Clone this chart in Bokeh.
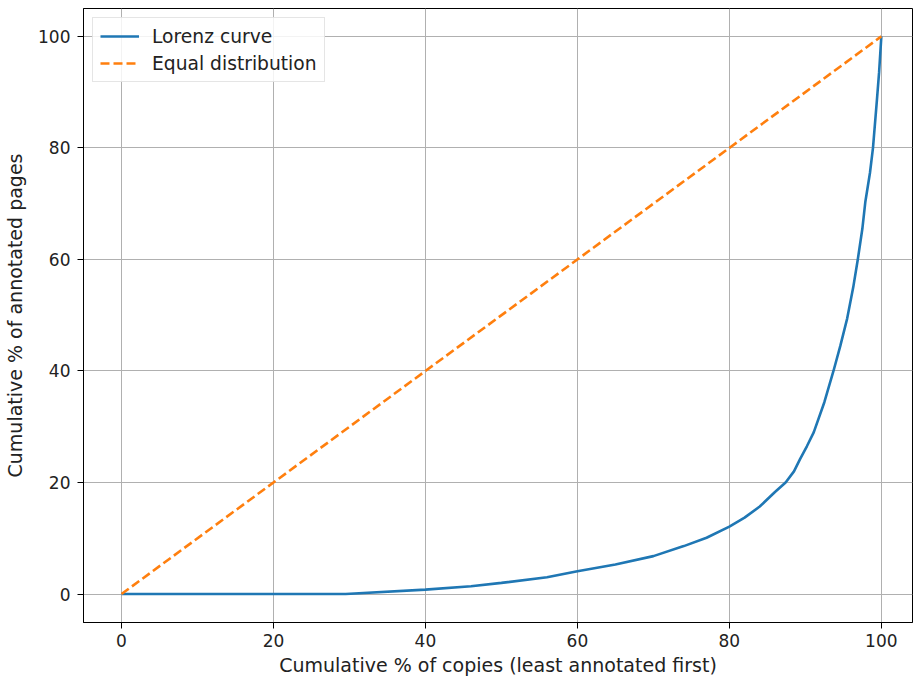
from bokeh.plotting import figure
from bokeh.models import Range1d, Legend, LegendItem
from bokeh.embed import file_html
from bokeh.resources import INLINE

# Lorenz curve
lorenz_x = [0, 10, 20, 29.5, 40, 46, 50, 56, 60, 65, 70, 74, 77, 80, 82, 84, 86, 87.4,
            88.5, 89.3, 90.2, 91.1, 92.5, 93.7, 94.6, 95.5, 96.3, 96.9, 97.5, 97.9,
            98.5, 98.9, 99.4, 99.7, 100]
lorenz_y = [0, 0, 0, 0, 0.8, 1.4, 2.0, 3.0, 4.1, 5.3, 6.8, 8.6, 10.1, 12.1, 13.7, 15.7,
            18.3, 20, 22.0, 24.2, 26.5, 29.0, 34.4, 40, 44.5, 49.4, 55.0, 60, 65.5,
            70.4, 75.5, 80, 88.3, 93.5, 100]
equal_x = [0, 100]
equal_y = [0, 100]

x_ticks = [0, 20, 40, 60, 80, 100]
y_ticks = [0, 20, 40, 60, 80, 100]

FONT = "DejaVu Sans"

p = figure(width=913, height=680, output_backend="svg", toolbar_location=None,
           x_range=Range1d(-5, 104.1), y_range=Range1d(-5.1, 105))
p.min_border_left = 83
p.min_border_right = 1
p.min_border_top = 8
p.min_border_bottom = 58

p.background_fill_color = "white"
p.border_fill_color = "white"
p.outline_line_color = "black"
p.outline_line_width = 1

for ax, ticks in ((p.xaxis, x_ticks), (p.yaxis, y_ticks)):
    ax.ticker = ticks
    ax.minor_tick_line_color = None
    ax.major_tick_out = 6
    ax.major_tick_in = 0
    ax.major_tick_line_color = "black"
    ax.axis_line_color = "black"
    ax.major_label_text_font = FONT
    ax.major_label_text_font_size = "17px"
    ax.major_label_text_color = "#222222"
    ax.axis_label_text_font = FONT
    ax.axis_label_text_font_size = "19px"
    ax.axis_label_text_font_style = "normal"
    ax.axis_label_text_color = "#222222"

p.xaxis.axis_label = "Cumulative % of copies (least annotated first)"
p.yaxis.axis_label = "Cumulative % of annotated pages"
p.xaxis.major_label_standoff = 5
p.yaxis.major_label_standoff = 7
p.xaxis.axis_label_standoff = 4
p.yaxis.axis_label_standoff = 9

p.xgrid.ticker = x_ticks
p.ygrid.ticker = y_ticks
p.grid.grid_line_color = "#b0b0b0"
p.grid.grid_line_width = 1

r1 = p.line(lorenz_x, lorenz_y, line_color="#1f77b4", line_width=2.6)
r2 = p.line(equal_x, equal_y, line_color="#ff7f0e", line_width=2.6, line_dash="9 4")

legend = Legend(items=[LegendItem(label="Lorenz curve", renderers=[r1]),
                       LegendItem(label="Equal distribution", renderers=[r2])],
                location="top_left")
legend.margin = 9
legend.padding = 7
legend.spacing = 5
legend.label_height = 22
legend.label_standoff = 13
legend.glyph_width = 39
legend.glyph_height = 22
legend.label_text_font = FONT
legend.label_text_font_size = "18.7px"
legend.label_text_color = "#222222"
legend.border_line_color = "#cccccc"
legend.border_line_width = 1
legend.background_fill_alpha = 0.85
p.add_layout(legend, "center")

open("out.html", "w").write(file_html(p, INLINE))
